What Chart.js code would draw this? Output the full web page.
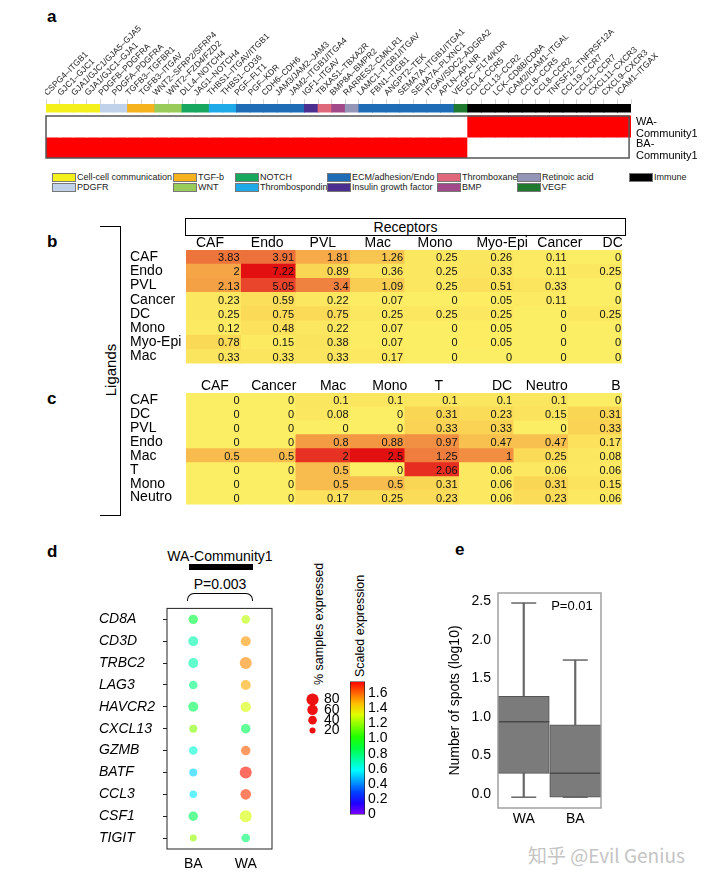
<!DOCTYPE html>
<html>
<head>
<meta charset="utf-8">
<script src="https://cdn.jsdelivr.net/npm/chart.js@4.4.1/dist/chart.umd.min.js"></script>
<style>
body { margin: 0; background: #fff; font-family: "Liberation Sans", Arial, sans-serif; }
#page { position: relative; width: 720px; height: 886px; overflow: hidden; background: #fff; }
canvas, .t { position: absolute; }
.t { white-space: nowrap; color: #000; }
.panel { font-weight: bold; font-size: 17px; line-height: 20px; }
.rot { transform: rotate(-90deg); text-align: center; }
.lgbox { position: absolute; width: 22px; height: 7px; border: 1px solid #777; }
</style>
</head>
<body>
<div id="page">
  <div class="t panel" style="left:47px;top:7px">a</div>
  <div class="t panel" style="left:47px;top:232px">b</div>
  <div class="t panel" style="left:47px;top:389px">c</div>
  <div class="t panel" style="left:47px;top:542px">d</div>
  <div class="t panel" style="left:455px;top:540px">e</div>

  <canvas id="chartA" width="620" height="146" style="left:45px;top:15px"></canvas>
  <div id="rowNamesA"></div>
  <div id="legendA"></div>

  <!-- b / c -->
  <div class="t" style="left:185px;top:218px;width:439px;height:16px;border:1.5px solid #000;text-align:center;font-size:14px;line-height:16px">Receptors</div>
  <div class="t" style="left:100px;top:226px;width:20px;height:288px;border:1.5px solid #000;border-left:none"></div>
  <div class="t rot" style="left:66px;top:361px;width:90px;height:18px;font-size:15px;line-height:18px">Ligands</div>
  <canvas id="chartB" width="492" height="140" style="left:130px;top:232px"></canvas>
  <canvas id="chartC" width="492" height="138" style="left:130px;top:375px"></canvas>

  <!-- d -->
  <div class="t" style="left:150px;top:548px;width:140px;text-align:center;font-size:14px;line-height:16px">WA-Community1</div>
  <div class="t" style="left:189px;top:564px;width:64px;height:6px;background:#000"></div>
  <div class="t" style="left:150px;top:576px;width:140px;text-align:center;font-size:14px;line-height:16px">P=0.003</div>
  <div class="t" style="left:187px;top:593px;width:64px;height:7px;border:1.5px solid #000;border-bottom:none;border-radius:7px 7px 0 0"></div>
  <canvas id="chartD" width="179" height="275" style="left:99px;top:600px"></canvas>
  <div class="t rot" style="left:259px;top:617px;width:120px;height:16px;font-size:12.5px;line-height:16px">% samples expressed</div>
  <div class="t rot" style="left:310px;top:619px;width:100px;height:16px;font-size:12.5px;line-height:16px">Scaled expression</div>
  <canvas id="chartSize" width="50" height="64" style="left:298px;top:683px"></canvas>
  <canvas id="chartBar" width="45" height="156" style="left:350px;top:670px"></canvas>

  <!-- e -->
  <canvas id="chartE" width="188" height="269" style="left:440px;top:566px"></canvas>
  <div class="t" style="left:532px;top:598px;width:80px;text-align:center;font-size:13px;line-height:16px">P=0.01</div>

  <div class="t" style="left:528px;top:843px;font-family:'Noto Sans CJK SC','Noto Sans',sans-serif;font-size:19px;line-height:24px;color:#c4c4c4">知乎 @Evil Genius</div>
</div>

<script>
// ---- panel a data ----
const pathwayLabels = ['CSPG4–ITGB1', 'GJC1–GJC1', 'GJA1/GJC1/GJA5–GJA5', 'GJA1/GJC1–GJA1', 'PDGFB–PDGFRA', 'PDGFA–PDGFRA',
  'TGFB3–TGFBR1', 'TGFB3–ITGAV', 'WNT2–SFRP2/SFRP4', 'WNT2–FZD4/FZD2', 'DLL4–NOTCH4', 'JAG1–NOTCH4',
  'THBS1–ITGAV/ITGB1', 'THBS1–CD36', 'PGF–FLT1', 'PGF–KDR', 'CDH6–CDH6', 'JAM3/JAM2–JAM3', 'JAM2–ITGB1/ITGA4',
  'IGF1–ITGAV', 'TBXAS1–TBXA2R', 'BMP8A–BMPR2', 'RARRES2–CMKLR1', 'LAMC1–ITGB1/ITGAV', 'FBN1–ITGB1', 'ANGPT2–TEK',
  'SEMA7A–ITGB1/ITGA1', 'SEMA7A–PLXNC1', 'ITGAV/SDC2–ADGRA2', 'APLN–APLNR', 'VEGFC–FLT4/KDR', 'CCL4–CCR5',
  'CCL13–CCR2', 'LCK–CD8B/CD8A', 'ICAM2/ICAM1–ITGAL', 'CCL8–CCR5', 'CCL8–CCR2', 'TNFSF12–TNFRSF12A',
  'CCL19–CCR7', 'CCL21–CCR7', 'CXCL11–CXCR3', 'CXCL9–CXCR3', 'ICAM1–ITGAX'];
const pathwayGroup = [0, 0, 0, 0, 1, 1, 2, 2, 3, 3, 4, 4, 5, 5, 6, 6, 6, 6, 6, 7, 8, 9, 10,
  6, 6, 6, 6, 6, 6, 6, 11, 12, 12, 12, 12, 12, 12, 12, 12, 12, 12, 12, 12];
const groupNames = ['Cell-cell communication', 'PDGFR', 'TGF-b', 'WNT', 'NOTCH', 'Thrombospondin', 'ECM/adhesion/Endo',
  'Insulin growth factor', 'Thromboxane', 'BMP', 'Retinoic acid', 'VEGF', 'Immune'];
const groupColors = ['#f4f01c', '#bfd2e9', '#f6b21c', '#98cb5a', '#17a75e', '#1eaae8', '#1e6cb6',
  '#4a2f90', '#e0687b', '#a24a89', '#9595b8', '#1f7a2f', '#000000'];
const communities = ['WA-Community1', 'BA-Community1'];
const waEnriched = [0,0,0,0,0,0,0,0,0,0,0,0,0,0,0,0,0,0,0,0,0,0,0,0,0,0,0,0,0,0,0,1,1,1,1,1,1,1,1,1,1,1,1];
const baEnriched = [1,1,1,1,1,1,1,1,1,1,1,1,1,1,1,1,1,1,1,1,1,1,1,1,1,1,1,1,1,1,1,0,0,0,0,0,0,0,0,0,0,0,0];

// ---- panel b data ----
const bLigands = ['CAF', 'Endo', 'PVL', 'Cancer', 'DC', 'Mono', 'Myo-Epi', 'Mac'];
const bReceptors = ['CAF', 'Endo', 'PVL', 'Mac', 'Mono', 'Myo-Epi', 'Cancer', 'DC'];
const bValues = [
  [3.83, 3.91, 1.81, 1.26, 0.25, 0.26, 0.11, 0],
  [2, 7.22, 0.89, 0.36, 0.25, 0.33, 0.11, 0.25],
  [2.13, 5.05, 3.4, 1.09, 0.25, 0.51, 0.33, 0],
  [0.23, 0.59, 0.22, 0.07, 0, 0.05, 0.11, 0],
  [0.25, 0.75, 0.75, 0.25, 0.25, 0.25, 0, 0.25],
  [0.12, 0.48, 0.22, 0.07, 0, 0.05, 0, 0],
  [0.78, 0.15, 0.38, 0.07, 0, 0.05, 0, 0],
  [0.33, 0.33, 0.33, 0.17, 0, 0, 0, 0]
];

// ---- panel c data ----
const cLigands = ['CAF', 'DC', 'PVL', 'Endo', 'Mac', 'T', 'Mono', 'Neutro'];
const cReceptors = ['CAF', 'Cancer', 'Mac', 'Mono', 'T', 'DC', 'Neutro', 'B'];
const cValues = [
  [0, 0, 0.1, 0.1, 0.1, 0.1, 0.1, 0],
  [0, 0, 0.08, 0, 0.31, 0.23, 0.15, 0.31],
  [0, 0, 0, 0, 0.33, 0.33, 0, 0.33],
  [0, 0, 0.8, 0.88, 0.97, 0.47, 0.47, 0.17],
  [0.5, 0.5, 2, 2.5, 1.25, 1, 0.25, 0.08],
  [0, 0, 0.5, 0, 2.06, 0.06, 0.06, 0.06],
  [0, 0, 0.5, 0.5, 0.31, 0.06, 0.31, 0.15],
  [0, 0, 0.17, 0.25, 0.23, 0.06, 0.23, 0.06]
];

// ---- panel d data ----
const genes = ['CD8A', 'CD3D', 'TRBC2', 'LAG3', 'HAVCR2', 'CXCL13', 'GZMB', 'BATF', 'CCL3', 'CSF1', 'TIGIT'];
const dotGroups = ['BA', 'WA'];
const baPct = [48, 54, 54, 40, 54, 35, 40, 35, 30, 48, 26];
const waPct = [40, 54, 78, 54, 58, 48, 48, 78, 61, 78, 40];
const baExpr = [0.88, 0.71, 0.71, 0.78, 0.84, 1.17, 0.65, 0.52, 0.55, 0.84, 1.2];
const waExpr = [1.26, 1.52, 1.54, 1.49, 1.3, 0.84, 1.61, 1.72, 1.67, 1.3, 0.81];
const sizeLegendPct = [80, 60, 40, 20];
const exprMax = 1.75;
const exprTicks = [0, 0.2, 0.4, 0.6, 0.8, 1.0, 1.2, 1.4, 1.6];

// ---- panel e data ----
const boxGroups = ['WA', 'BA'];
const boxMin = [-0.04, -0.04];
const boxQ1 = [0.27, -0.04];
const boxMedian = [0.94, 0.27];
const boxQ3 = [1.27, 0.9];
const boxMax = [2.48, 1.74];
const eTicks = [0, 0.5, 1, 1.5, 2, 2.5];

Chart.defaults.font.family = '"Liberation Sans", Arial, sans-serif';
Chart.defaults.color = '#000';
Chart.defaults.animation = false;
Chart.defaults.responsive = false;
Chart.defaults.events = [];
Chart.defaults.plugins.legend.display = false;
Chart.defaults.plugins.tooltip.enabled = false;

const heatStops = [[0, [252, 238, 100]], [0.12, [250, 215, 85]], [0.27, [245, 165, 70]],
  [0.5, [238, 125, 62]], [0.72, [233, 62, 42]], [1, [226, 16, 16]]];
function heatColor(v, max) {
  const t = Math.min(v / max, 1);
  for (let k = 1; k < heatStops.length; k++) {
    const [t0, c0] = heatStops[k - 1], [t1, c1] = heatStops[k];
    if (t <= t1) {
      const f = (t - t0) / (t1 - t0);
      return 'rgb(' + c0.map((c, i) => Math.round(c + (c1[i] - c) * f)).join(',') + ')';
    }
  }
  return 'rgb(226,16,16)';
}
function exprColor(v, a) {
  const hue = 270 * (1 - Math.min(v, exprMax) / exprMax);
  return 'hsla(' + hue + ',100%,50%,' + a + ')';
}
const pctRadius = p => 0.68 * Math.sqrt(p);

const frame = (color, w) => ({
  id: 'frame',
  afterDraw(chart) {
    const a = chart.chartArea, ctx = chart.ctx;
    ctx.save();
    ctx.strokeStyle = color;
    ctx.lineWidth = w;
    ctx.strokeRect(a.left, a.top, a.right - a.left, a.bottom - a.top);
    ctx.restore();
  }
});

// ---- panel a ----
const boxA = {
  id: 'boxA',
  afterDatasetsDraw(chart) {
    const x = chart.scales.x, y = chart.scales.y, ctx = chart.ctx;
    ctx.save();
    ctx.strokeStyle = '#555';
    ctx.lineWidth = 1.5;
    const top = y.getPixelForValue(12), bot = y.getPixelForValue(54);
    ctx.strokeRect(x.left, top, x.right - x.left - 2, bot - top);
    ctx.restore();
  }
};
new Chart(document.getElementById('chartA'), {
  type: 'bar',
  data: {
    labels: pathwayLabels,
    datasets: [
      { data: pathwayLabels.map(() => [0, 8]), backgroundColor: pathwayGroup.map(g => groupColors[g]) },
      { data: pathwayLabels.map(() => [12, 33]), backgroundColor: waEnriched.map(f => f ? '#ff0000' : '#ffffff') },
      { data: pathwayLabels.map(() => [33, 54]), backgroundColor: baEnriched.map(f => f ? '#ff0000' : '#ffffff') }
    ]
  },
  options: {
    layout: { padding: { bottom: 3 } },
    datasets: { bar: { grouped: false, categoryPercentage: 1, barPercentage: 1, borderWidth: 0, inflateAmount: 0.5 } },
    scales: {
      x: {
        position: 'top',
        grid: { drawOnChartArea: false, tickLength: 5, color: '#d6d6d6' },
        border: { display: false },
        ticks: { autoSkip: false, minRotation: 45, maxRotation: 45, font: { size: 8.5 }, color: '#222', padding: 1 },
        afterFit(s) { s.height = 89; }
      },
      y: { min: 0, max: 54, reverse: true, display: false }
    }
  },
  plugins: [boxA]
});

communities.forEach((name, i) => {
  const d = document.createElement('div');
  d.className = 't';
  d.style.cssText = 'left:636px;top:' + (116 + i * 22) + 'px;font-size:11px;line-height:11.5px';
  d.innerHTML = name.replace('-', '-<br>');
  document.getElementById('rowNamesA').appendChild(d);
});

const legendX = [52, 173, 235, 327, 437, 517, 629];
groupNames.forEach((name, i) => {
  const col = Math.floor(i / 2), row = i % 2;
  const top = 173 + row * 10;
  const box = document.createElement('div');
  box.className = 'lgbox';
  box.style.cssText = 'left:' + legendX[col] + 'px;top:' + top + 'px;background:' + groupColors[i];
  const txt = document.createElement('div');
  txt.className = 't';
  txt.style.cssText = 'left:' + (legendX[col] + 25) + 'px;top:' + (top - 2) + 'px;font-size:9px;line-height:12px;color:#222';
  txt.textContent = name;
  const lg = document.getElementById('legendA');
  lg.appendChild(box);
  lg.appendChild(txt);
});

// ---- panels b and c ----
const cellText = {
  id: 'cellText',
  afterDatasetsDraw(chart) {
    const ctx = chart.ctx;
    ctx.save();
    ctx.font = '11px "Liberation Sans", Arial, sans-serif';
    ctx.fillStyle = '#111';
    ctx.textAlign = 'right';
    ctx.textBaseline = 'middle';
    chart.data.datasets.forEach((ds, j) => {
      chart.getDatasetMeta(j).data.forEach((bar, i) => {
        ctx.fillText(String(ds.values[i]), bar.x - 1, bar.y + 1);
      });
    });
    ctx.restore();
  }
};

function makeHeatmap(id, rows, cols, vals, headerAt) {
  const maxV = Math.max(...vals.flat());
  new Chart(document.getElementById(id), {
    type: 'bar',
    data: {
      labels: rows,
      datasets: cols.map((c, j) => ({
        label: c,
        data: rows.map(() => [j, j + 1]),
        values: vals.map(r => r[j]),
        backgroundColor: vals.map(r => heatColor(r[j], maxV))
      }))
    },
    options: {
      indexAxis: 'y',
      datasets: { bar: { grouped: false, categoryPercentage: 1, barPercentage: 1, borderWidth: 0, inflateAmount: 0.5 } },
      scales: {
        x: { type: 'linear', min: 0, max: cols.length, display: false },
        x2: {
          type: 'linear', position: 'top', min: 0, max: cols.length,
          grid: { display: false, drawTicks: false }, border: { display: false },
          afterBuildTicks(s) { s.ticks = headerAt.map(v => ({ value: v })); },
          ticks: { autoSkip: false, maxRotation: 0, font: { size: 14 }, padding: -2, callback: (v, i) => cols[i] },
          afterFit(s) { s.height = 18; }
        },
        y: {
          type: 'category',
          grid: { display: false, drawTicks: false }, border: { display: false },
          ticks: { autoSkip: false, font: { size: 14 }, crossAlign: 'far', padding: 0 },
          afterFit(s) { s.width = 56; }
        }
      }
    },
    plugins: [cellText]
  });
}
makeHeatmap('chartB', bLigands, bReceptors, bValues, [0.44, 1.49, 2.51, 3.52, 4.57, 5.8, 6.86, 7.83]);
makeHeatmap('chartC', cLigands, cReceptors, cValues, [0.53, 1.61, 2.7, 3.74, 4.64, 5.8, 6.62, 7.89]);

// ---- panel d ----
new Chart(document.getElementById('chartD'), {
  type: 'scatter',
  data: {
    datasets: [
      { data: genes.map((g, i) => ({ x: 'BA', y: g, pct: baPct[i], expr: baExpr[i] })) },
      { data: genes.map((g, i) => ({ x: 'WA', y: g, pct: waPct[i], expr: waExpr[i] })) }
    ]
  },
  options: {
    layout: { padding: { top: 2, right: 2 } },
    elements: {
      point: {
        radius: c => c.raw ? pctRadius(c.raw.pct) : 0,
        backgroundColor: c => c.raw ? exprColor(c.raw.expr, 0.62) : 'transparent',
        borderWidth: 0
      }
    },
    scales: {
      x: {
        type: 'category', labels: dotGroups, offset: true,
        grid: { display: false, drawTicks: false }, border: { display: false },
        ticks: { font: { size: 14 }, padding: 7 },
        afterFit(s) { s.height = 26; }
      },
      y: {
        type: 'category', labels: genes, offset: true,
        grid: { drawOnChartArea: false, tickLength: 4, color: '#222' }, border: { display: false },
        ticks: { autoSkip: false, font: { size: 14, style: 'italic' }, crossAlign: 'far', padding: 0 },
        afterFit(s) { s.width = 68; }
      }
    }
  },
  plugins: [frame('#222', 1)]
});

new Chart(document.getElementById('chartSize'), {
  type: 'scatter',
  data: { datasets: [{ data: sizeLegendPct.map(p => ({ x: 0, y: String(p), pct: p })) }] },
  options: {
    elements: { point: { radius: c => c.raw ? pctRadius(c.raw.pct) : 0, backgroundColor: '#ee1111', borderWidth: 0 } },
    scales: {
      x: { type: 'linear', min: -1, max: 1, display: false },
      y: {
        type: 'category', labels: sizeLegendPct.map(String), offset: true, position: 'right',
        grid: { display: false, drawTicks: false }, border: { display: false },
        ticks: { autoSkip: false, font: { size: 14 }, padding: 3, crossAlign: 'near' },
        afterFit(s) { s.width = 27; }
      }
    }
  }
});

new Chart(document.getElementById('chartBar'), {
  type: 'bar',
  data: {
    labels: [''],
    datasets: [{
      data: [[0, exprMax]],
      backgroundColor: c => {
        const a = c.chart.chartArea;
        if (!a) return '#888';
        const g = c.chart.ctx.createLinearGradient(0, a.bottom, 0, a.top);
        for (let k = 0; k <= 12; k++) g.addColorStop(k / 12, exprColor(k / 12 * exprMax, 1));
        return g;
      },
      borderColor: '#222', borderWidth: 1, borderSkipped: false
    }]
  },
  options: {
    layout: { padding: { top: 9, bottom: 8 } },
    datasets: { bar: { categoryPercentage: 1, barPercentage: 1 } },
    scales: {
      x: { display: false },
      y: {
        min: 0, max: exprMax, position: 'right',
        grid: { display: false, drawTicks: false }, border: { display: false },
        afterBuildTicks(s) { s.ticks = exprTicks.map(v => ({ value: v })); },
        ticks: { autoSkip: false, font: { size: 14 }, padding: 3, callback: v => v === 0 ? '0' : v.toFixed(1) },
        afterFit(s) { s.width = 30; }
      }
    }
  }
});

// ---- panel e ----
new Chart(document.getElementById('chartE'), {
  type: 'bar',
  data: {
    labels: boxGroups,
    datasets: [
      { type: 'line', data: boxMedian, showLine: false, pointStyle: 'line', pointRadius: 25.5, pointBorderColor: '#4a4a4a', pointBorderWidth: 1.5 },
      { type: 'line', data: boxMax, showLine: false, pointStyle: 'line', pointRadius: 12.5, pointBorderColor: '#666', pointBorderWidth: 1.5 },
      { type: 'line', data: boxMin, showLine: false, pointStyle: 'line', pointRadius: 12.5, pointBorderColor: '#666', pointBorderWidth: 1.5 },
      { data: boxQ1.map((q, i) => [q, boxQ3[i]]), backgroundColor: '#7b7b7b', borderColor: '#555', borderWidth: 1, borderSkipped: false, barThickness: 51, grouped: false },
      { data: boxMin.map((m, i) => [m, boxMax[i]]), backgroundColor: '#666', barThickness: 1.5, grouped: false }
    ]
  },
  options: {
    layout: { padding: { top: 8, right: 4 } },
    scales: {
      x: {
        offset: true,
        grid: { display: false, drawTicks: false }, border: { display: false },
        ticks: { font: { size: 14 }, padding: 3 },
        afterFit(s) { s.height = 24; }
      },
      y: {
        min: -0.18, max: 2.61,
        grid: { display: false, drawTicks: false }, border: { display: false },
        afterBuildTicks(s) { s.ticks = eTicks.map(v => ({ value: v })); },
        ticks: { font: { size: 14 }, padding: 7, callback: v => v.toFixed(1) },
        title: { display: true, text: 'Number of spots (log10)', font: { size: 14 }, padding: { top: 7, bottom: 2 } },
        afterFit(s) { s.width = 58; }
      }
    }
  },
  plugins: [frame('#a0a0a0', 1.5)]
});
</script>
</body>
</html>
